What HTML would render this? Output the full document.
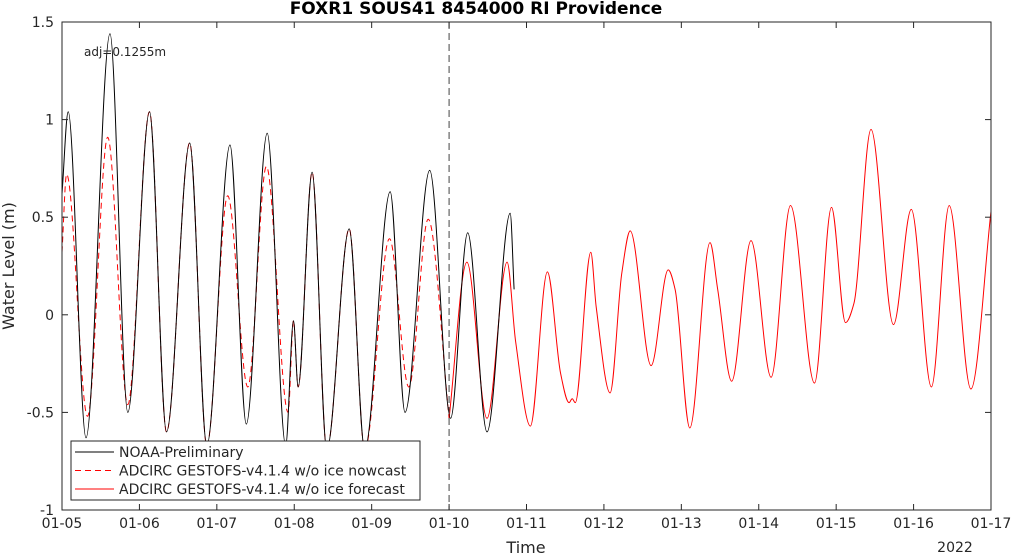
<!DOCTYPE html>
<html><head><meta charset="utf-8"><style>
body{margin:0;background:#fff;width:1013px;height:555px;overflow:hidden}
svg{display:block;font-family:"DejaVu Sans","Liberation Sans",sans-serif}
</style></head><body>
<svg id="chart" width="1013" height="555"></svg>
<script>
const xTickLabels=["01-05","01-06","01-07","01-08","01-09","01-10","01-11","01-12","01-13","01-14","01-15","01-16","01-17"];
const yTickValues=[-1,-0.5,0,0.5,1,1.5];
const yTickLabels=["-1","-0.5","0","0.5","1","1.5"];
// times in days since 01-05
const obsT=[0,0.08,0.31,0.62,0.85,1.13,1.35,1.65,1.87,2.17,2.38,2.65,2.89,2.99,3.05,3.23,3.42,3.71,3.91,4.24,4.43,4.75,5.02,5.24,5.49,5.79,5.84];
const obsV=[0.62,1.04,-0.63,1.44,-0.5,1.04,-0.6,0.88,-0.67,0.87,-0.56,0.93,-0.67,-0.03,-0.37,0.73,-0.69,0.44,-0.69,0.63,-0.5,0.74,-0.53,0.42,-0.6,0.52,0.13];
const nowT=[0,0.06,0.33,0.59,0.85,1.13,1.35,1.65,1.87,2.14,2.4,2.64,2.92,2.99,3.05,3.23,3.42,3.71,3.91,4.23,4.48,4.73,5.0];
const nowV=[0.32,0.72,-0.52,0.91,-0.46,1.04,-0.6,0.88,-0.67,0.61,-0.37,0.76,-0.5,-0.03,-0.37,0.73,-0.69,0.44,-0.69,0.39,-0.37,0.49,-0.53];
const fcT=[5.0,5.23,5.49,5.75,5.86,6.05,6.27,6.44,6.55,6.59,6.63,6.83,6.9,7.08,7.23,7.34,7.61,7.83,7.92,8.11,8.37,8.47,8.65,8.9,9.16,9.41,9.72,9.94,10.12,10.23,10.45,10.74,10.97,11.23,11.46,11.74,12.0];
const fcV=[-0.53,0.27,-0.53,0.27,-0.14,-0.57,0.22,-0.3,-0.45,-0.43,-0.45,0.32,0.04,-0.4,0.21,0.43,-0.26,0.23,0.13,-0.58,0.37,0.13,-0.34,0.38,-0.32,0.56,-0.35,0.55,-0.04,0.06,0.95,-0.05,0.54,-0.37,0.56,-0.38,0.53];
const nowcastEnd=5.0;

const L=62,R=991,T=22,B=510;
const X=d=>L+(R-L)*d/12;
const Y=v=>B-(B-T)*(v+1)/2.5;
const NS="http://www.w3.org/2000/svg";
const svg=document.getElementById('chart');
function el(tag,attrs,parent){const e=document.createElementNS(NS,tag);for(const k in attrs)e.setAttribute(k,attrs[k]);(parent||svg).appendChild(e);return e;}

function smoothPath(ts,vs){
  const xs=ts.map(X),ys=vs.map(Y),n=xs.length;
  const d=[],m=[];
  for(let i=0;i<n-1;i++)d.push((ys[i+1]-ys[i])/(xs[i+1]-xs[i]));
  m[0]=d[0];m[n-1]=d[n-2];
  for(let i=1;i<n-1;i++){m[i]=(d[i-1]*d[i]<=0)?0:2/(1/d[i-1]+1/d[i]);}
  let p="M"+xs[0].toFixed(1)+","+ys[0].toFixed(1);
  for(let i=0;i<n-1;i++){const h=(xs[i+1]-xs[i])/3;
    p+=" C"+(xs[i]+h).toFixed(1)+","+(ys[i]+m[i]*h).toFixed(1)+" "+(xs[i+1]-h).toFixed(1)+","+(ys[i+1]-m[i+1]*h).toFixed(1)+" "+xs[i+1].toFixed(1)+","+ys[i+1].toFixed(1);}
  return p;
}

const clip=el('clipPath',{id:'pc'});el('rect',{x:L,y:T,width:R-L,height:B-T},clip);

let t=el('text',{x:476,y:14,'text-anchor':'middle','font-size':'17','font-weight':'bold',fill:'#000'});

t.textContent="FOXR1 SOUS41 8454000 RI Providence";

const fc=el('path',{d:smoothPath(fcT,fcV),fill:'none',stroke:'#f00','stroke-width':1,'clip-path':'url(#pc)'});

const nc=el('path',{d:smoothPath(nowT,nowV),fill:'none',stroke:'#f00','stroke-width':1,'stroke-dasharray':'6,4','clip-path':'url(#pc)'});

const ob=el('path',{d:smoothPath(obsT,obsV),fill:'none',stroke:'#000','stroke-width':1,'clip-path':'url(#pc)'});


const vl=el('line',{x1:X(nowcastEnd),x2:X(nowcastEnd),y1:T,y2:B,stroke:'#444','stroke-width':1,'stroke-dasharray':'7,4'});


const box=el('rect',{x:L,y:T,width:R-L,height:B-T,fill:'none',stroke:'#262626','stroke-width':1});


xTickLabels.forEach((lab,i)=>{const x=X(i);
  el('line',{x1:x,x2:x,y1:B,y2:B-6,stroke:'#262626'});el('line',{x1:x,x2:x,y1:T,y2:T+6,stroke:'#262626'});
  const tx=el('text',{x:x,y:528,'text-anchor':'middle','font-size':'14',fill:'#262626'});
  tx.textContent=lab;});
yTickValues.forEach((v,i)=>{const y=Y(v);
  el('line',{x1:L,x2:L+6,y1:y,y2:y,stroke:'#262626'});el('line',{x1:R,x2:R-6,y1:y,y2:y,stroke:'#262626'});
  const tx=el('text',{x:54,y:y+5,'text-anchor':'end','font-size':'14',fill:'#262626'});
  tx.textContent=yTickLabels[i];});

t=el('text',{x:526,y:553,'text-anchor':'middle','font-size':'16',fill:'#262626'});
t.textContent="Time";
t=el('text',{x:955,y:552,'text-anchor':'middle','font-size':'14',fill:'#262626'});
t.textContent="2022";
t=el('text',{x:0,y:0,'text-anchor':'middle','font-size':'16',fill:'#262626',transform:'translate(14,266) rotate(-90)'});
t.textContent="Water Level (m)";
t=el('text',{x:84,y:56,'font-size':'12',fill:'#262626'});
t.textContent="adj=0.1255m";

const lg=el('g',{});
el('rect',{x:71,y:441,width:349,height:59,fill:'#fff',stroke:'#262626','stroke-width':1},lg);
const entries=[["NOAA-Preliminary","#000",null],["ADCIRC GESTOFS-v4.1.4 w/o ice nowcast","#f00","6,4"],["ADCIRC GESTOFS-v4.1.4 w/o ice forecast","#f00",null]];
entries.forEach((e,i)=>{const y=452+i*18.5;const g=el('g',{},lg);
  
  const a={x1:75,x2:114,y1:y,y2:y,stroke:e[1],'stroke-width':1};if(e[2])a['stroke-dasharray']=e[2];el('line',a,g);
  const tx=el('text',{x:119,y:y+5,'font-size':'14',fill:'#262626'},g);tx.textContent=e[0];});
</script>
</body></html>
